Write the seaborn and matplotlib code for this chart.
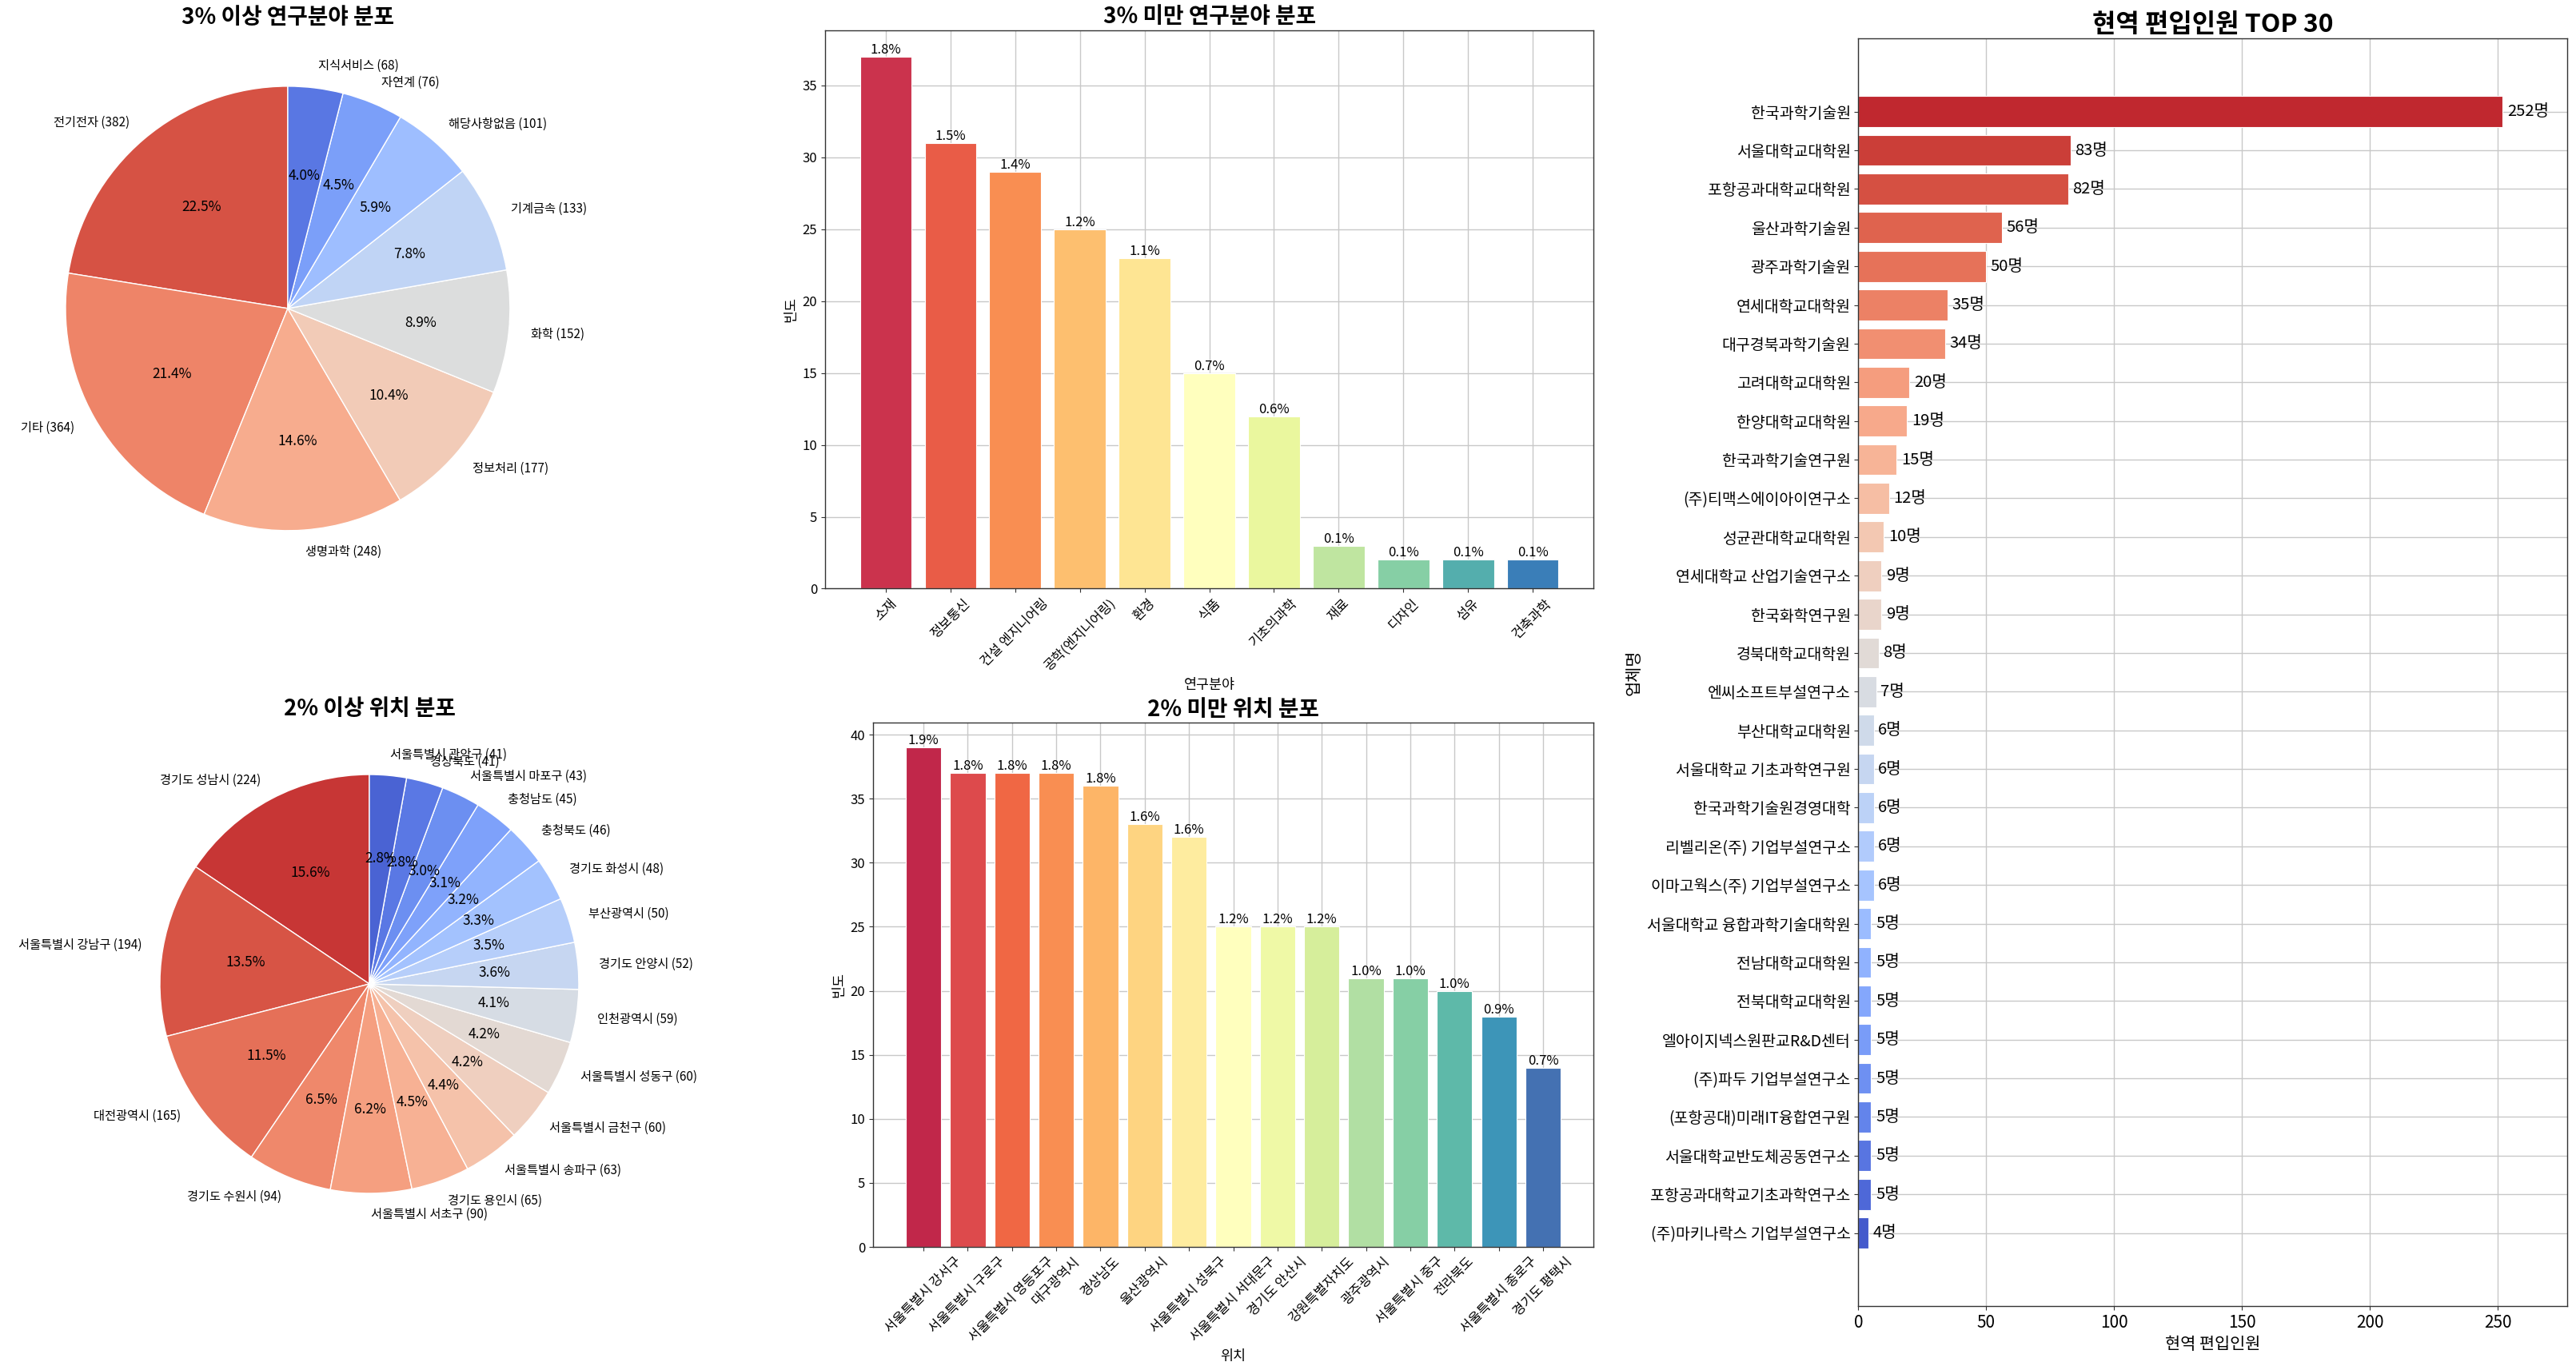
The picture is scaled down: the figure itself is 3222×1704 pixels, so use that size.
import numpy as np
import pandas as pd
import matplotlib
matplotlib.use("Agg")
import matplotlib.pyplot as plt
import seaborn as sns

# ---------------- data ----------------
field_major = ["전기전자", "기타", "생명과학", "정보처리", "화학", "기계금속",
               "해당사항없음", "자연계", "지식서비스"]
field_major_counts = [382, 364, 248, 177, 152, 133, 101, 76, 68]

loc_major = ["경기도 성남시", "서울특별시 강남구", "대전광역시", "경기도 수원시",
             "서울특별시 서초구", "경기도 용인시", "서울특별시 송파구", "서울특별시 금천구",
             "서울특별시 성동구", "인천광역시", "경기도 안양시", "부산광역시",
             "경기도 화성시", "충청북도", "충청남도", "서울특별시 마포구",
             "경상북도", "서울특별시 관악구"]
loc_major_counts = [224, 194, 165, 94, 90, 65, 63, 60, 60, 59, 52, 50, 48, 46, 45, 43, 41, 41]

field_minor = ["소재", "정보통신", "건설 엔지니어링", "공학(엔지니어링)", "환경", "식품",
               "기초의과학", "재료", "디자인", "섬유", "건축과학"]
field_minor_counts = [37, 31, 29, 25, 23, 15, 12, 3, 2, 2, 2]

loc_minor = ["서울특별시 강서구", "서울특별시 구로구", "서울특별시 영등포구", "대구광역시",
             "경상남도", "울산광역시", "서울특별시 성북구", "서울특별시 서대문구",
             "경기도 안산시", "강원특별자치도", "광주광역시", "서울특별시 중구",
             "전라북도", "서울특별시 종로구", "경기도 평택시"]
loc_minor_counts = [39, 37, 37, 37, 36, 33, 32, 25, 25, 25, 21, 21, 20, 18, 14]

total_records = 2050  # overall number of records (basis of the small-share percentages)

top_orgs = ["한국과학기술원", "서울대학교대학원", "포항공과대학교대학원", "울산과학기술원",
            "광주과학기술원", "연세대학교대학원", "대구경북과학기술원", "고려대학교대학원",
            "한양대학교대학원", "한국과학기술연구원", "(주)티맥스에이아이연구소",
            "성균관대학교대학원", "연세대학교 산업기술연구소", "한국화학연구원",
            "경북대학교대학원", "엔씨소프트부설연구소", "부산대학교대학원",
            "서울대학교 기초과학연구원", "한국과학기술원경영대학", "리벨리온(주) 기업부설연구소",
            "이마고웍스(주) 기업부설연구소", "서울대학교 융합과학기술대학원", "전남대학교대학원",
            "전북대학교대학원", "엘아이지넥스원판교R&D센터", "(주)파두 기업부설연구소",
            "(포항공대)미래IT융합연구원", "서울대학교반도체공동연구소",
            "포항공과대학교기초과학연구소", "(주)마키나락스 기업부설연구소"]
top_counts = [252, 83, 82, 56, 50, 35, 34, 20, 19, 15, 12, 10, 9, 9, 8, 7, 6, 6, 6, 6,
              6, 5, 5, 5, 5, 5, 5, 5, 5, 4]

# ---------------- style ----------------
sns.set_theme(style="whitegrid", rc={
    "axes.edgecolor": "#333333",
    "axes.linewidth": 1.0,
    "xtick.bottom": True,
    "ytick.left": True,
    "xtick.color": "#333333",
    "ytick.color": "#333333",
    "xtick.labelcolor": "black",
    "ytick.labelcolor": "black",
    "text.color": "black",
    "axes.labelcolor": "black",
    "grid.color": "#c8c8c8",
    "grid.linewidth": 1.0,
    "xtick.major.size": 3.5,
    "ytick.major.size": 3.5,
    "xtick.major.width": 0.8,
    "ytick.major.width": 0.8,
})
plt.rcParams['font.family'] = ['Noto Sans CJK KR', 'DejaVu Sans']
plt.rcParams['axes.unicode_minus'] = False

fig = plt.figure(figsize=(32.23, 17.04), dpi=100)

# ---------------- pie 1 ----------------
ax1 = fig.add_axes([0.00388, 0.5696, 0.2156, 0.4079])
labels1 = [f"{n} ({c})" for n, c in zip(field_major, field_major_counts)]
w, t, at = ax1.pie(field_major_counts, labels=labels1,
                   colors=sns.color_palette("coolwarm_r", len(field_major)),
                   autopct='%1.1f%%', startangle=90, textprops={'fontsize': 11})
for a in at:
    a.set_fontsize(12.5)
ax1.set_title("3% 이상 연구분야 분포", fontsize=20, fontweight='bold')

# ---------------- pie 2 ----------------
ax3 = fig.add_axes([0.04173, 0.08539, 0.2032, 0.3844])
labels3 = [f"{n} ({c})" for n, c in zip(loc_major, loc_major_counts)]
w, t, at = ax3.pie(loc_major_counts, labels=labels3,
                   colors=sns.color_palette("coolwarm_r", len(loc_major)),
                   autopct='%1.1f%%', startangle=90, textprops={'fontsize': 11})
for a in at:
    a.set_fontsize(12.5)
ax3.set_title("2% 이상 위치 분포", fontsize=20, fontweight='bold')


def vbar(ax, cats, vals, title, xlabel):
    df = pd.DataFrame({'cat': cats, 'val': vals})
    sns.barplot(data=df, x='cat', y='val', hue='cat', palette='Spectral',
                saturation=1, legend=False, ax=ax, width=0.8,
                edgecolor='white', linewidth=0.8)
    n = len(cats)
    span = (n - 1) + 0.8
    ax.set_xlim(-0.4 - 0.05 * span, n - 1 + 0.4 + 0.05 * span)
    ax.set_ylim(0, max(vals) * 1.05)
    for i, v in enumerate(vals):
        ax.text(i, v, f"{v / total_records * 100:.1f}%", ha='center', va='bottom',
                fontsize=12)
    ax.grid(True, axis='both')
    ax.set_axisbelow(True)
    ax.tick_params(axis='x', rotation=45, labelsize=12)
    ax.tick_params(axis='y', labelsize=12)
    ax.set_title(title, fontsize=20, fontweight='bold')
    ax.set_xlabel(xlabel, fontsize=12.5)
    ax.set_ylabel("빈도", fontsize=12.5)


ax2 = fig.add_axes([0.3202, 0.5678, 0.2982, 0.4101])
vbar(ax2, field_minor, field_minor_counts, "3% 미만 연구분야 분포", "연구분야")

ax4 = fig.add_axes([0.3388, 0.0845, 0.2796, 0.3850])
vbar(ax4, loc_minor, loc_minor_counts, "2% 미만 위치 분포", "위치")

# ---------------- top 30 ----------------
ax5 = fig.add_axes([0.7212, 0.0411, 0.2751, 0.9306])
df5 = pd.DataFrame({'org': top_orgs, 'n': top_counts})
sns.barplot(data=df5, y='org', x='n', hue='org', palette='coolwarm_r', saturation=1,
            legend=False, orient='h', ax=ax5, width=0.8, edgecolor='white', linewidth=0.8)
n5 = len(top_orgs)
span5 = (n5 - 1) + 0.8
ax5.set_ylim(n5 - 1 + 0.4 + 0.05 * span5, -0.4 - 0.05 * span5)
ax5.set_xlim(0, max(top_counts) * 1.1)
for i, v in enumerate(top_counts):
    ax5.annotate(f"{v}명", (v, i), xytext=(4, 0), textcoords='offset points',
                 ha='left', va='center', fontsize=14.5)
ax5.grid(True, axis='both')
ax5.set_axisbelow(True)
ax5.tick_params(axis='y', labelsize=14)
ax5.tick_params(axis='x', labelsize=15)
ax5.set_title("현역 편입인원 TOP 30", fontsize=23, fontweight='bold')
ax5.set_xlabel("현역 편입인원", fontsize=15)
ax5.set_ylabel("업체명", fontsize=15)

fig.savefig("out.png", dpi=100)
